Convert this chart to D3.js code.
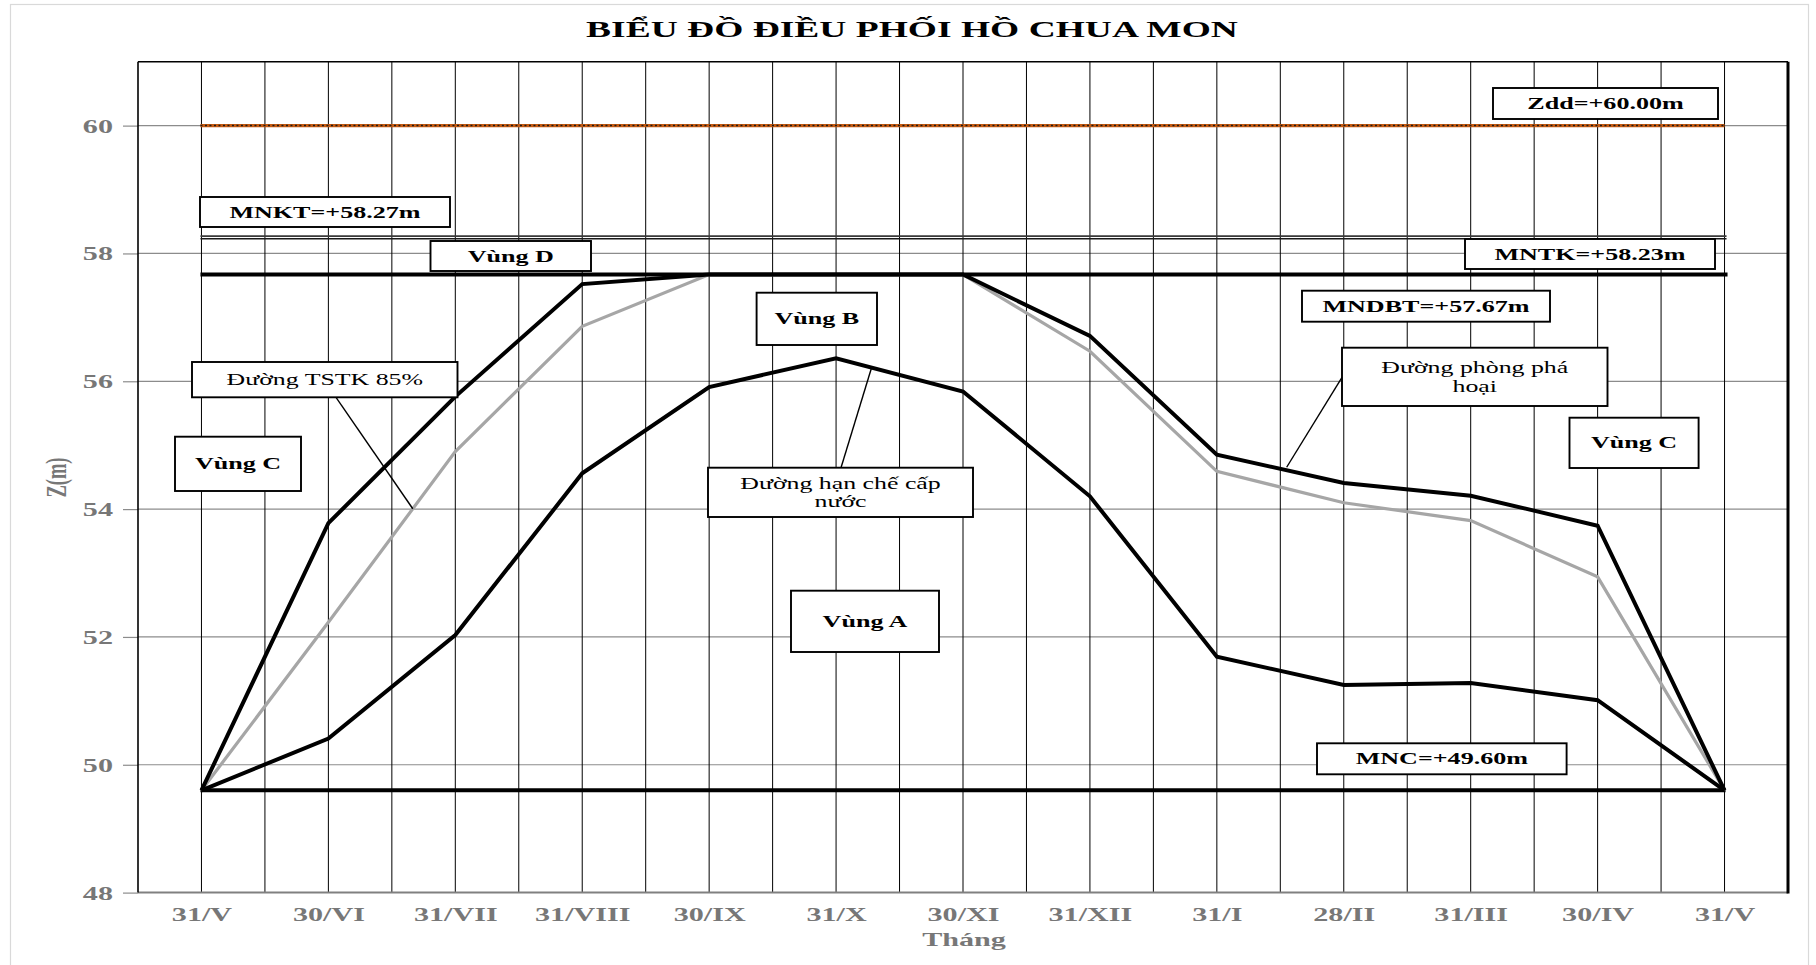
<!DOCTYPE html>
<html>
<head>
<meta charset="utf-8">
<script src="https://cdn.jsdelivr.net/npm/d3@7/dist/d3.min.js"></script>
<style>
  html, body { margin: 0; padding: 0; background: #ffffff; }
  svg { display: block; }
</style>
</head>
<body>
<svg id="chart" width="1816" height="965"></svg>
<script>
// ---------------- DATA ----------------
const titleText = "BIỂU ĐỒ ĐIỀU PHỐI HỒ CHUA MON";
const yAxisTitle = "Z(m)";
const xAxisTitle = "Tháng";
const months = ["31/V","30/VI","31/VII","31/VIII","30/IX","31/X","30/XI","31/XII","31/I","28/II","31/III","30/IV","31/V"];
const yTicks = [48, 50, 52, 54, 56, 58, 60];
// Đường phòng phá hoại (upper black)
const phongPhaHoai = [49.60, 53.78, 55.76, 57.52, 57.67, 57.67, 57.67, 56.71, 54.85, 54.41, 54.21, 53.74, 49.60];
// Đường TSTK 85% (grey)
const tstk85 = [49.60, 52.23, 54.90, 56.86, 57.67, 57.67, 57.67, 56.47, 54.59, 54.10, 53.82, 52.94, 49.60];
// Đường hạn chế cấp nước (lower black)
const hanChe = [49.60, 50.41, 52.03, 54.56, 55.91, 56.36, 55.84, 54.20, 51.69, 51.25, 51.28, 51.01, 49.60];
// Characteristic levels
const levelZdd = 60.00, levelMNKT = 58.27, levelMNTK = 58.23, levelMNDBT = 57.67, levelMNC = 49.60;
const boxLabels = ["Zdd=+60.00m","MNKT=+58.27m","Vùng D","MNTK=+58.23m","MNDBT=+57.67m","Vùng B",
                   "Đường TSTK 85%","Vùng C","Đường hạn chế cấp|nước","Vùng A","Đường phòng phá|hoại","Vùng C","MNC=+49.60m"];

// ---------------- LAYOUT ----------------
const svg = d3.select("#chart");
const P = {left: 138, right: 1788, top: 61.7, bottom: 892.6};
const nSlots = 26; // half-month slots
const x = d3.scaleLinear().domain([0, nSlots]).range([P.left, P.right]);
const y = d3.scaleLinear().domain([48, 61]).range([P.bottom, P.top]);
const posOf = i => 2 * i + 1;          // month index -> slot position
const SX = 1.63;                        // horizontal stretch of the reference's text
const SXn = 1.52;
const serif = "'Liberation Serif','Times New Roman',serif";

function stext(parent, px, py, str, o) {
  o = o || {};
  const k = o.k || SX;
  return parent.append("text")
    .attr("transform", `translate(${px},${py}) scale(${k},1)` + (o.rot ? " rotate(-90)" : ""))
    .attr("text-anchor", o.anchor || "middle")
    .attr("font-family", serif)
    .attr("font-weight", o.weight || "bold")
    .attr("font-size", o.size || 16)
    .attr("fill", o.fill || "#000")
    .text(str);
}

// outer chart frame
svg.append("rect").attr("x", 10.5).attr("y", 4.5).attr("width", 1798).attr("height", 980)
  .attr("fill", "#fff").attr("stroke", "#d9d9d9").attr("stroke-width", 1.2);

// title
stext(svg, 912, 37, titleText, {size: 23});

// horizontal gridlines
svg.append("g").selectAll("line").data(yTicks.filter(v => v > 48)).join("line")
  .attr("x1", P.left).attr("x2", P.right)
  .attr("y1", d => y(d)).attr("y2", d => y(d))
  .attr("stroke", "#8c8c8c").attr("stroke-width", 1.2);

// vertical gridlines
svg.append("g").selectAll("line").data(d3.range(1, nSlots)).join("line")
  .attr("x1", d => x(d)).attr("x2", d => x(d))
  .attr("y1", P.top).attr("y2", P.bottom)
  .attr("stroke", "#000").attr("stroke-width", 1);

// y axis
const yAxis = svg.append("g").attr("transform", `translate(${P.left},0)`)
  .call(d3.axisLeft(y).tickValues(yTicks).tickSizeInner(15).tickSizeOuter(0).tickFormat(d3.format("d")));
yAxis.select(".domain").remove();
yAxis.selectAll(".tick line").attr("stroke", "#8c8c8c").attr("stroke-width", 1.2);
yAxis.selectAll(".tick text")
  .attr("x", -25 / SX).attr("dy", 0).attr("y", 6.5)
  .attr("transform", `scale(${SX},1)`)
  .attr("font-family", serif).attr("font-weight", "bold").attr("font-size", 18.5)
  .attr("fill", "#777777");

// x axis
const xAxis = svg.append("g").attr("transform", `translate(0,${P.bottom})`)
  .call(d3.axisBottom(x).tickValues(months.map((m, i) => posOf(i))).tickSize(0)
        .tickFormat((d) => months[(d - 1) / 2]));
xAxis.select(".domain").remove();
xAxis.selectAll(".tick text")
  .attr("y", 28.5).attr("dy", 0)
  .attr("transform", `scale(${SX},1)`)
  .attr("font-family", serif).attr("font-weight", "bold").attr("font-size", 18.5)
  .attr("fill", "#777777");

// plot borders
svg.append("line").attr("x1", P.left).attr("x2", P.right).attr("y1", P.bottom).attr("y2", P.bottom)
  .attr("stroke", "#808080").attr("stroke-width", 2);
svg.append("line").attr("x1", P.left).attr("x2", P.left).attr("y1", P.top).attr("y2", P.bottom)
  .attr("stroke", "#000").attr("stroke-width", 1.6);
svg.append("line").attr("x1", P.left).attr("x2", P.right).attr("y1", P.top).attr("y2", P.top)
  .attr("stroke", "#000").attr("stroke-width", 1.6);
svg.append("line").attr("x1", P.right).attr("x2", P.right).attr("y1", P.top).attr("y2", P.bottom + 1)
  .attr("stroke", "#000").attr("stroke-width", 3);

// axis titles
stext(svg, 66, 477.5, yAxisTitle, {size: 18.5, rot: true, fill: "#777777"});
stext(svg, 964, 946, xAxisTitle, {size: 18.5, fill: "#777777"});

// characteristic level lines
const x0 = x(posOf(0)), x1 = x(posOf(months.length - 1));
function hline(v, color, w, dash, ext) {
  svg.append("line").attr("x1", x0 - 1).attr("x2", x1 + (ext || 0))
    .attr("y1", y(v)).attr("y2", y(v))
    .attr("stroke", color).attr("stroke-width", w)
    .attr("stroke-dasharray", dash || null);
}
hline(levelZdd, "#c55a11", 3.4);
hline(levelZdd, "#1a1a1a", 1.5, "2,2.5");
hline(levelMNKT, "#3a3a3a", 1.7, null, 2);
hline(levelMNTK, "#1a1a1a", 1.5, null, 2);
hline(levelMNDBT, "#000", 4, null, 3);
hline(levelMNC, "#000", 4, null, 1);

// series
const line = d3.line().x((d, i) => x(posOf(i))).y(d => y(d));
svg.append("path").datum(tstk85).attr("d", line)
  .attr("fill", "none").attr("stroke", "#a6a6a6").attr("stroke-width", 3.2).attr("stroke-linejoin", "miter");
svg.append("path").datum(hanChe).attr("d", line)
  .attr("fill", "none").attr("stroke", "#000").attr("stroke-width", 4).attr("stroke-linejoin", "miter");
svg.append("path").datum(phongPhaHoai).attr("d", line)
  .attr("fill", "none").attr("stroke", "#000").attr("stroke-width", 4).attr("stroke-linejoin", "miter");

// value of a series at a slot position (for leader-line endpoints)
function valueAt(series, pos) {
  const pts = series.map((v, i) => [posOf(i), v]);
  for (let i = 0; i < pts.length - 1; i++) {
    if (pos >= pts[i][0] && pos <= pts[i + 1][0]) {
      const t = (pos - pts[i][0]) / (pts[i + 1][0] - pts[i][0]);
      return pts[i][1] + t * (pts[i + 1][1] - pts[i][1]);
    }
  }
  return series[0];
}

// leader lines
const leaders = [
  {from: [336, 397.3], series: tstk85, pos: 4.33},
  {from: [841, 467.7], series: hanChe, pos: 11.56},
  {from: [1342, 377.3], series: phongPhaHoai, pos: 18.1, dy: -3}
];
leaders.forEach(l => {
  svg.append("line").attr("x1", l.from[0]).attr("y1", l.from[1])
    .attr("x2", x(l.pos)).attr("y2", y(valueAt(l.series, l.pos)) + (l.dy || 0))
    .attr("stroke", "#000").attr("stroke-width", 1.4);
});

// annotation boxes: [x1, y1, x2, y2, bold]
const boxes = [
  [1493, 88, 1718, 119, true],
  [200, 197, 450, 227, true],
  [430.5, 241, 591, 271, true],
  [1465, 239, 1715, 269, true],
  [1302, 290.7, 1550, 321.7, true],
  [756.6, 292.7, 877, 345, true],
  [192, 362, 457.5, 397.3, false],
  [175, 436.7, 301, 491, true],
  [708, 467.7, 973, 517, false],
  [791, 590.7, 939, 652, true],
  [1342, 347.7, 1607.5, 406, false],
  [1569.5, 417.7, 1698.6, 468, true],
  [1317, 743.3, 1566.6, 774.3, true]
];
boxes.forEach((b, i) => {
  const g = svg.append("g");
  g.append("rect").attr("x", b[0]).attr("y", b[1]).attr("width", b[2] - b[0]).attr("height", b[3] - b[1])
    .attr("fill", "#fff").attr("stroke", "#000").attr("stroke-width", 1.9);
  const lines = boxLabels[i].split("|");
  const cx = (b[0] + b[2]) / 2, cy = (b[1] + b[3]) / 2;
  const lh = 18.5;
  lines.forEach((t, j) => {
    const by = cy + 5.5 + (j - (lines.length - 1) / 2) * lh;
    stext(g, cx, by, t, b[4] ? {size: 16} : {size: 17, weight: "normal", k: SXn});
  });
});
</script>
</body>
</html>
